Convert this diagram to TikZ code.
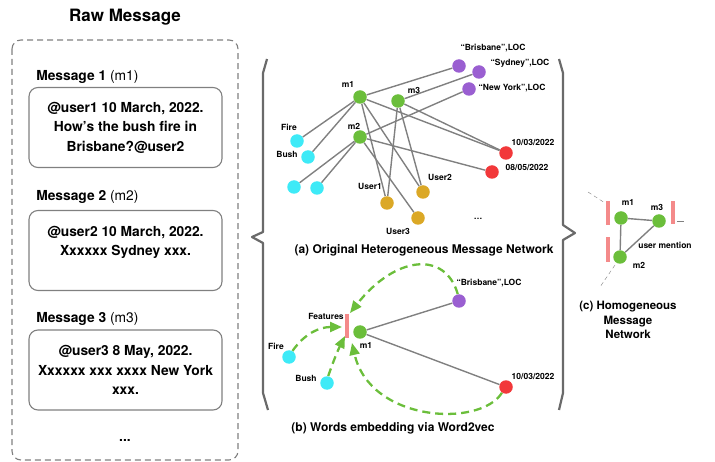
\documentclass[tikz,border=0pt]{standalone}
\usepackage{fontspec}
\setmainfont{TeX Gyre Heros}
\usetikzlibrary{arrows.meta}
\definecolor{msggreen}{HTML}{6BBE3B}
\definecolor{locpurple}{HTML}{9A5FD1}
\definecolor{wordcyan}{HTML}{3EEAF7}
\definecolor{datered}{HTML}{F2383A}
\definecolor{usergold}{HTML}{DBA826}
\definecolor{barpink}{HTML}{F48A8A}
\definecolor{edgegray}{HTML}{808080}
\definecolor{bracegray}{HTML}{6A6A6A}
\begin{document}
\begin{tikzpicture}[x=1pt,y=-1pt,semithick,
    every edge/.style={draw=edgegray, line width=1.4pt}]
  \tikzstyle{every node}=[font=\bfseries\fontsize{8.5}{10}\selectfont, inner sep=1pt]
  \tikzstyle{dot}=[circle, minimum size=13.5pt, inner sep=0pt]
  \tikzstyle{msg}=[dot, fill=msggreen]
  \tikzstyle{loc}=[dot, fill=locpurple]
  \tikzstyle{word}=[dot, fill=wordcyan]
  \tikzstyle{date}=[dot, fill=datered]
  \tikzstyle{user}=[dot, fill=usergold]
  \tikzstyle{bar}=[rectangle, fill=barpink, minimum width=3.5pt, inner sep=0pt]
  \tikzstyle{msgbox}=[draw=gray, line width=1.1pt, rounded corners=9pt,
    minimum width=193pt, minimum height=80pt, align=center,
    font=\bfseries\fontsize{13.8}{19.5}\selectfont]
  \tikzstyle{msglabel}=[anchor=west, font=\bfseries\fontsize{13.8}{16}\selectfont]
  \tikzstyle{caption}=[align=center, font=\bfseries\fontsize{12}{14.5}\selectfont]
  \tikzstyle{embed}=[draw=msggreen, line width=2.3pt, dash pattern=on 8pt off 5pt,
    -{Triangle[length=12pt,width=10pt]}]
  \useasboundingbox (0,0) rectangle (715,462);

  \node[font=\bfseries\fontsize{17}{20}\selectfont] (title) at (125,17) {Raw Message};
  \draw[gray, line width=1.1pt, dash pattern=on 6pt off 4pt, rounded corners=9pt]
    (12,40) rectangle (238,460);
  \node[msglabel] (lab1) at (35,77) {Message 1 \textmd{(m1)}};
  \node[msgbox] (box1) at (125.5,127.5) {@user1 10 March, 2022.\\How’s the bush fire in\\Brisbane?@user2};
  \node[msglabel] (lab2) at (35,197) {Message 2 \textmd{(m2)}};
  \node[msgbox] (box2) at (125.5,250.5) {@user2 10 March, 2022.\\Xxxxxx Sydney xxx.\\\mbox{}};
  \node[msglabel] (lab3) at (35,319) {Message 3 \textmd{(m3)}};
  \node[msgbox] (box3) at (125.5,370) {@user3 8 May, 2022.\\Xxxxxx xxx xxxx New York\\xxx.};
  \node[font=\bfseries\fontsize{13.8}{16}\selectfont] (more) at (125,440) {...};

  \draw[bracegray, line width=2.2pt, line join=round]
    (267,59) -- (263,73) -- (263,232) -- (252,237) -- (263,243) -- (263,393) -- (268,410);
  \draw[bracegray, line width=2.2pt, line join=round]
    (559,59) -- (563,73) -- (563,225) -- (575,233) -- (563,240) -- (563,393) -- (559,410);

  \foreach \n/\x/\y in {m1/360/97, m3/398/101, m2/360/137}
    \node[msg] (\n) at (\x,\y) {};
  \foreach \n/\x/\y in {bris/459/66, syd/479/72, ny/469/89}
    \node[loc] (\n) at (\x,\y) {};
  \foreach \n/\x/\y in {fire/297/141, bush/308/157, w3/294/187, w4/317/188}
    \node[word] (\n) at (\x,\y) {};
  \foreach \n/\x/\y in {d1/506/153, d2/492/172}
    \node[date] (\n) at (\x,\y) {};
  \foreach \n/\x/\y in {u1/387/203, u2/423/192, u3/418/218}
    \node[user] (\n) at (\x,\y) {};
  \foreach \n/\x/\y/\t in {brisl/493/48/{“Brisbane”,LOC}, sydl/520/63/{“Sydney”,LOC},
      nyl/512/88/{“New York”,LOC}, m1l/348/84/m1, m3l/414/90/m3, m2l/354/126/m2,
      firel/289/127/Fire, bushl/287/154/Bush, d1l/533/142/10\slash 03\slash 2022,
      d2l/527/167/08\slash 05\slash 2022, u1l/370/186/User1, u2l/440/177/User2,
      u3l/398/231/User3}
    \node (\n) at (\x,\y) {\t};
  \node (dots) at (478,219) {\ldots};
  \path (m1) edge (bris)
             edge (fire)
             edge (bush)
             edge (d1)
             edge (u1)
             edge (u2)
        (m3) edge (syd)
             edge (d1)
             edge (u1)
             edge (u2)
        (m2) edge (ny)
             edge (w3)
             edge (w4)
             edge (d2)
             edge (u3);
  \node[caption] (capa) at (424,250) {(a) Original Heterogeneous Message Network};

  \node[bar, minimum height=24pt] (feat) at (347,326) {};
  \node[msg] (m1b) at (360,332) {};
  \node[loc] (brisb) at (459,301) {};
  \node[word] (fireb) at (289,357) {};
  \node[word] (bushb) at (327,383) {};
  \node[date] (d1b) at (506,387) {};
  \foreach \n/\x/\y/\t in {featl/326/316/Features, m1bl/366/345/m1,
      brisbl/489/283/{“Brisbane”,LOC}, firebl/276/346/Fire, bushbl/306/378/Bush,
      d1bl/533/376/10\slash 03\slash 2022}
    \node (\n) at (\x,\y) {\t};
  \path (m1b) edge (brisb)
              edge (d1b);
  \coordinate (tipa) at (350,313);
  \coordinate (tipb) at (342,327);
  \coordinate (tipc) at (345,336);
  \coordinate (tipd) at (352,343);
  \draw[embed] (brisb.100) .. controls (445,250) and (395,256) .. (tipa);
  \draw[embed] (fireb.60) .. controls (305,333) and (320,327) .. (tipb);
  \draw[embed] (bushb.80) .. controls (333,362) and (338,350) .. (tipc);
  \draw[embed] (d1b.235) .. controls (480,428) and (370,422) .. (tipd);
  \node[caption] (capb) at (393,428) {(b) Words embedding via Word2vec};

  \node[msg] (m1c) at (621,218) {};
  \node[msg] (m3c) at (659,221) {};
  \node[msg] (m2c) at (620,257) {};
  \node[bar, minimum height=24pt] (bar1) at (608,213) {};
  \node[bar, minimum height=25pt] (bar2) at (608,249.5) {};
  \node[bar, minimum height=23pt] (bar3) at (673,212.5) {};
  \foreach \n/\x/\y/\t in {m1cl/628/202/m1, m3cl/657/207/m3, m2cl/639/265/m2,
      mention/665/245/user mention}
    \node (\n) at (\x,\y) {\t};
  \path (m1c) edge (m3c)
              edge (m2c)
        (m2c) edge (m3c);
  \coordinate (ca1) at (588,192);
  \coordinate (ca2) at (605,203);
  \coordinate (cb1) at (615,265);
  \coordinate (cb2) at (600,287);
  \coordinate (cc1) at (677,221);
  \coordinate (cc2) at (684,221);
  \draw[edgegray, thin, dash pattern=on 4pt off 3pt] (ca1) -- (ca2);
  \draw[edgegray, thin, dash pattern=on 4pt off 3pt] (cb1) -- (cb2);
  \draw[edgegray, thin] (cc1) -- (cc2);
  \node[caption, font=\bfseries\fontsize{11.5}{14.5}\selectfont] (capc) at (628,320)
    {(c) Homogeneous\\Message\\Network};
\end{tikzpicture}
\end{document}
